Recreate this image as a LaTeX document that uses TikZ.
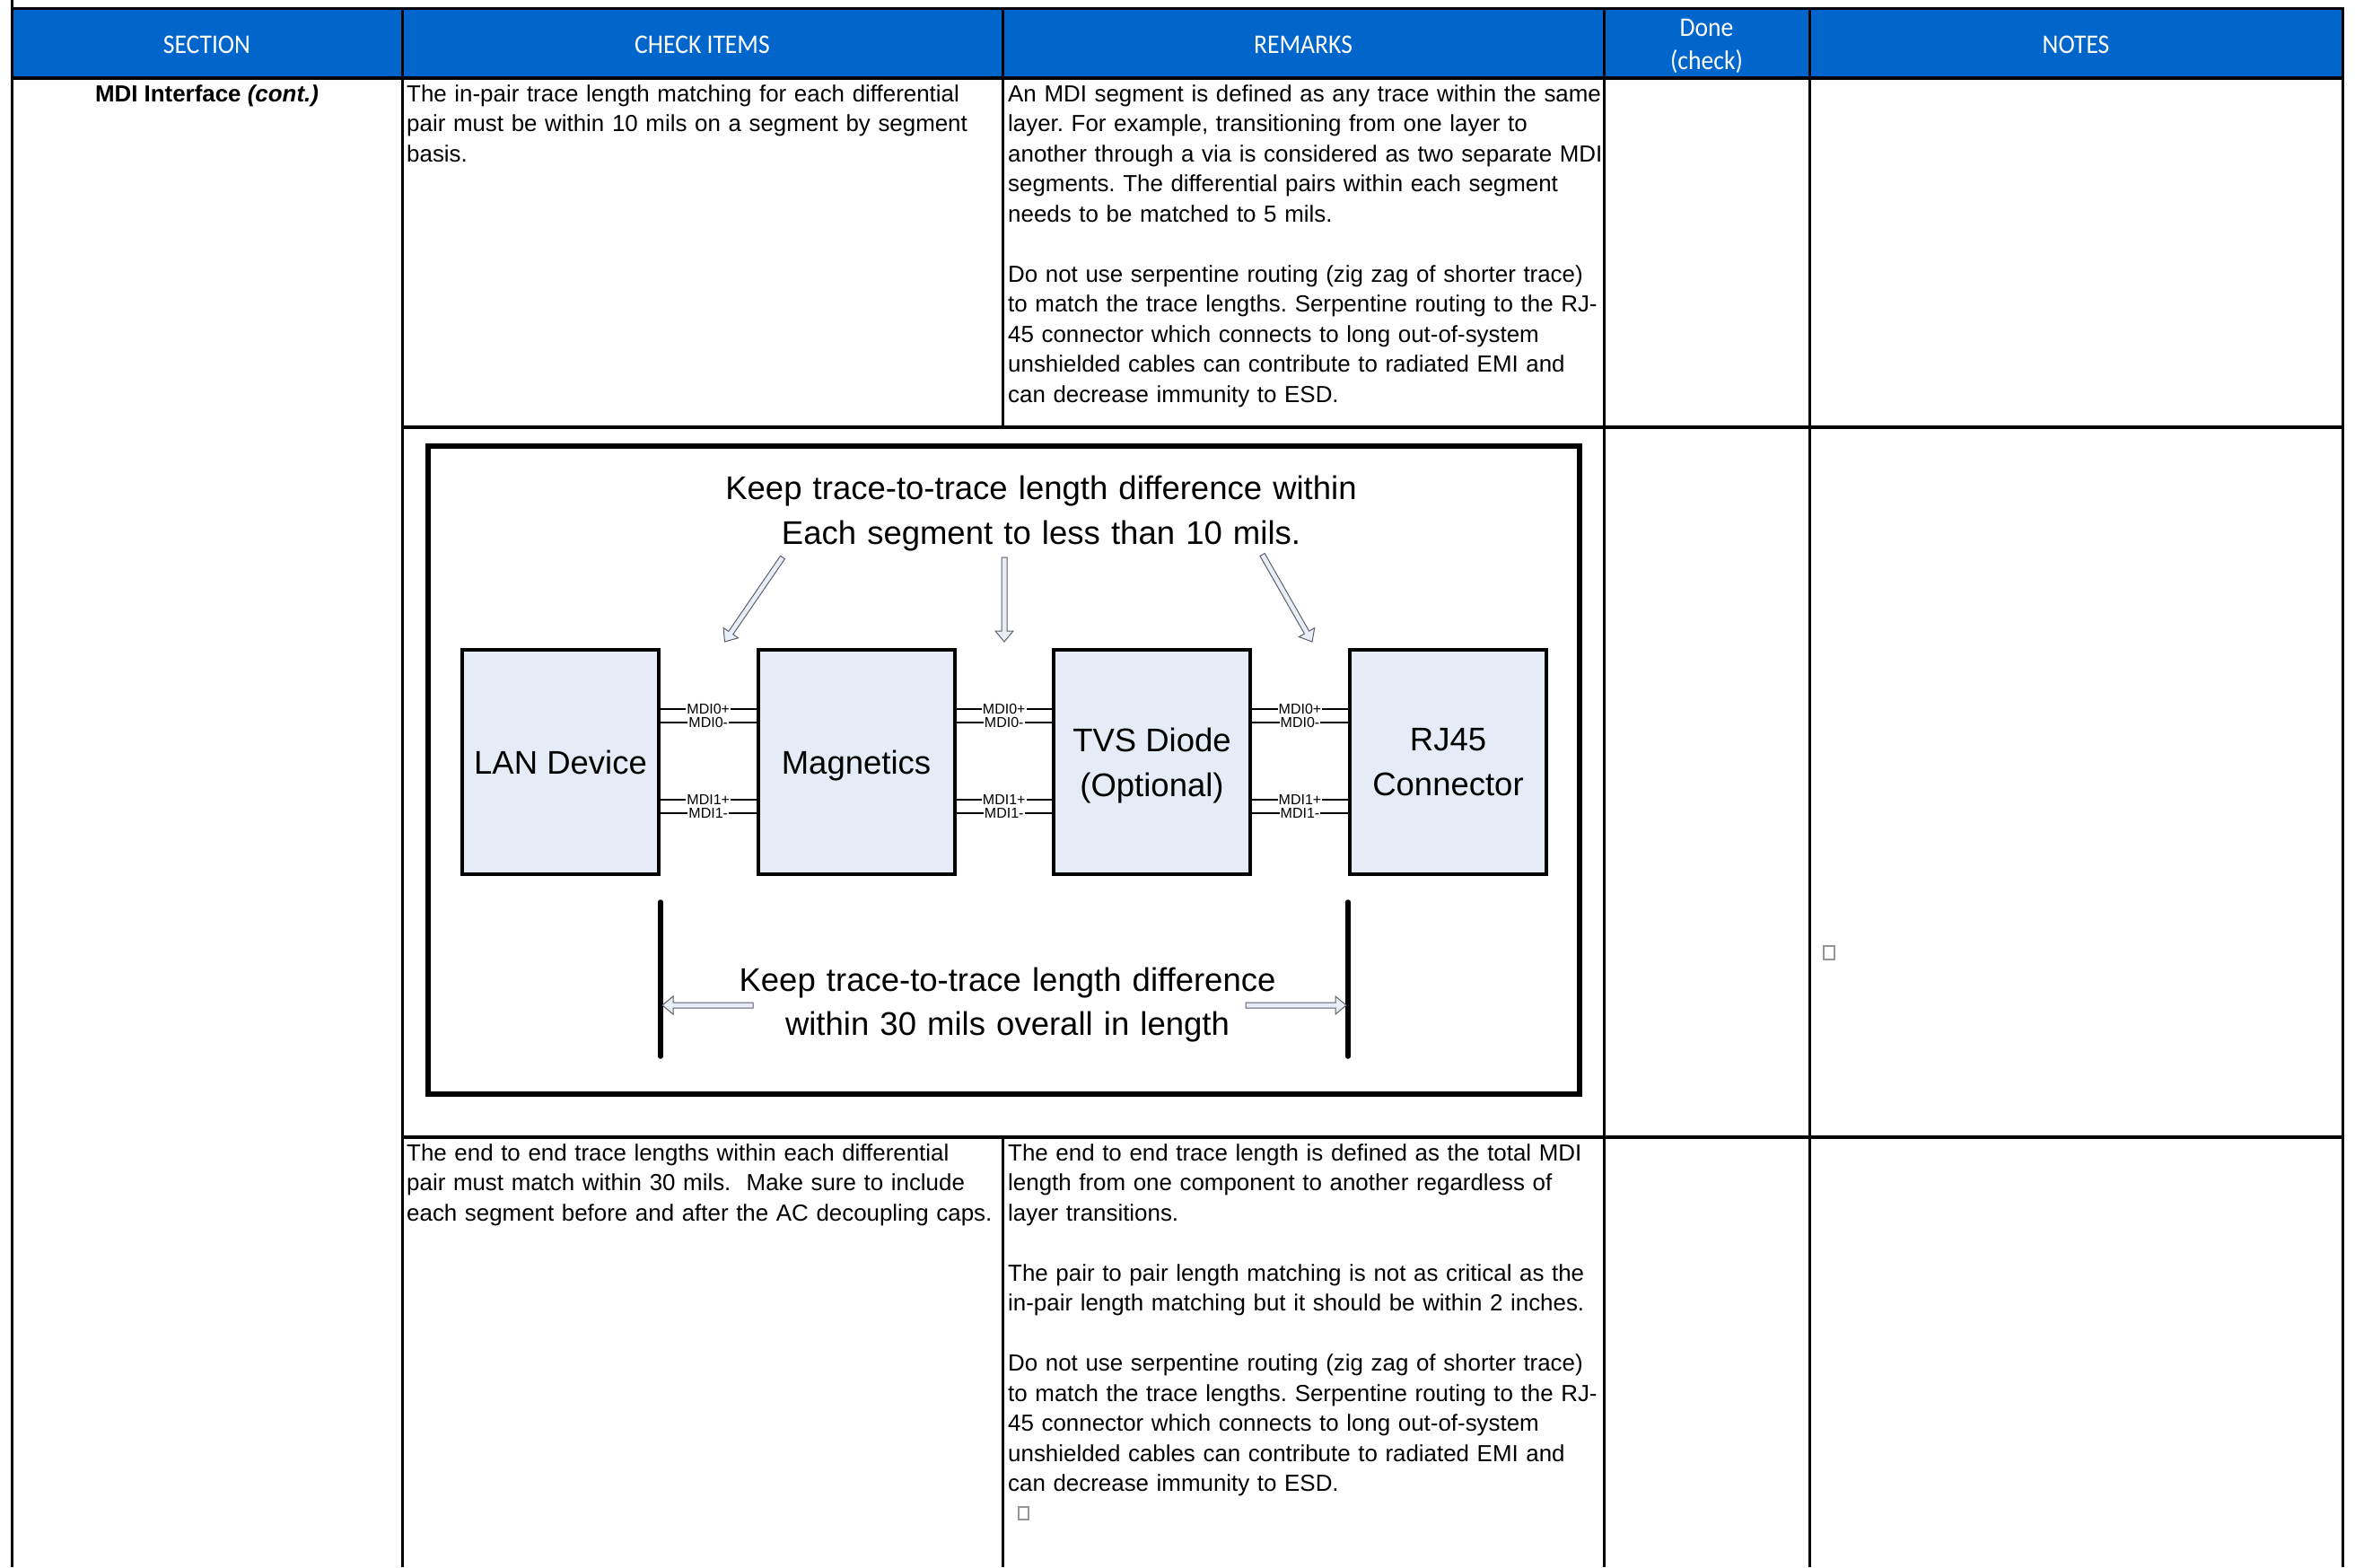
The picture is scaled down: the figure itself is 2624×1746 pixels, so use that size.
\documentclass[tikz,border=0pt]{standalone}
\usepackage{fontspec}
\setmainfont{Liberation Sans}
\newfontfamily\hdrfont[FakeStretch=0.92]{Carlito}
\usetikzlibrary{calc}
\frenchspacing

\definecolor{hdrblue}{RGB}{0,102,204}
\definecolor{boxfill}{RGB}{229,235,247}
\definecolor{arrfill}{RGB}{232,238,248}
\definecolor{arrline}{RGB}{95,95,105}
\definecolor{glyphgray}{RGB}{150,150,150}

\newcommand{\blockarr}[2]{%
  \coordinate (bah) at ($(#2)!12pt!(#1)$);
  \draw[barr] ($(#1)!3pt!90:(#2)$) -- ($(bah)!3pt!90:(#2)$) -- ($(bah)!10pt!90:(#2)$) -- (#2)
    -- ($(bah)!10pt!-90:(#2)$) -- ($(bah)!3pt!-90:(#2)$) -- ($(#1)!3pt!-90:(#2)$) -- cycle;}

\begin{document}
\begin{tikzpicture}[x=1pt,y=-1pt,
  vline/.style={line width=3pt},
  hline/.style={line width=3.5pt},
  hdr/.style={text=white, font=\hdrfont\fontsize{30}{37}\selectfont, inner sep=0pt, anchor=base},
  body/.style={font=\fontsize{25.9}{33.5}\selectfont\frenchspacing, inner sep=0pt, anchor=base west, align=left, text width=720pt},
  blk/.style={draw=black, line width=4pt, fill=boxfill, minimum width=219pt, minimum height=250pt, inner sep=0pt, font=\fontsize{36.5}{50}\selectfont, align=center, text depth=0pt},
  bigtxt/.style={font=\fontsize{36.5}{50}\selectfont, inner sep=0pt, anchor=base, align=center, text width=800pt},
  wire/.style={line width=2.7pt},
  mdi/.style={font=\fontsize{16}{16}\selectfont, fill=white, inner xsep=1pt, inner ysep=0pt, text height=11.5pt, text depth=0.5pt},
  barr/.style={draw=arrline, fill=arrfill, line width=1pt, line join=miter},
  bar/.style={line width=5.5pt, line cap=round},
  glyph/.style={draw=glyphgray, line width=1.2pt}
]
\useasboundingbox (0,0) rectangle (2624,1746);
\fill[white] (0,0) rectangle (2624,1746);

% ---------- header ----------
\fill[hdrblue] (13,9) rectangle (2610,87);
\node[hdr] (hsec) at (230.5,59) {SECTION};
\node[hdr] (hchk) at (782.5,59) {CHECK ITEMS};
\node[hdr] (hrem) at (1452,59) {REMARKS};
\node[hdr, align=center, text width=220pt] (hdone) at (1901.5,40) {Done\\(check)};
\node[hdr] (hnot) at (2313,59) {NOTES};

% ---------- grid ----------
\draw[hline] (11.5,9.5) -- (2611.5,9.5);
\draw[hline] (11.5,87) -- (2611.5,87);
\draw[hline] (448,476) -- (2611.5,476);
\draw[hline] (448,1267) -- (2611.5,1267);
\draw[vline] (13,0) -- (13,1746);
\draw[vline] (448,9) -- (448,1746);
\draw[vline] (1117,9) -- (1117,476);
\draw[vline] (1117,1267) -- (1117,1746);
\draw[vline] (1787,9) -- (1787,1746);
\draw[vline] (2016,9) -- (2016,1746);
\draw[vline] (2610,9) -- (2610,1746);

% ---------- row 1 ----------
\node[font=\fontsize{25.9}{33.5}\selectfont\bfseries, inner sep=0pt, anchor=base] (sec) at (230.5,113) {MDI Interface \itshape(cont.)};
\node[body] (chk1) at (453,113) {The in-pair trace length matching for each differential\\
pair must be within 10 mils on a segment by segment\\
basis.};
\node[body] (rem1) at (1123,113) {An MDI segment is defined as any trace within the same\\
layer. For example, transitioning from one layer to\\
another through a via is considered as two separate MDI\\
segments. The differential pairs within each segment\\
needs to be matched to 5 mils.\\[33.5pt]
Do not use serpentine routing (zig zag of shorter trace)\\
to match the trace lengths. Serpentine routing to the RJ-\\
45 connector which connects to long out-of-system\\
unshielded cables can contribute to radiated EMI and\\
can decrease immunity to ESD.};

% ---------- diagram ----------
\draw[line width=6.5pt] (477,497) rectangle (1760,1219);
\node[bigtxt] (toptxt) at (1160,556) {Keep trace-to-trace length difference within\\Each segment to less than 10 mils.};

\node[blk] (lan) at (624.5,849) {LAN Device};
\node[blk] (mag) at (954,849) {Magnetics};
\node[blk] (tvs) at (1283.5,849) {TVS Diode\\(Optional)};
\node[blk] (rj) at (1613.5,849) {RJ45\\Connector};

\coordinate (w0p) at (0,790);
\coordinate (w0n) at (0,805);
\coordinate (w1p) at (0,891);
\coordinate (w1n) at (0,906);
\foreach \a/\b in {lan/mag, mag/tvs, tvs/rj}{
  \draw[wire] (\a.east |- w0p) -- node[mdi]{MDI0+} (\b.west |- w0p);
  \draw[wire] (\a.east |- w0n) -- node[mdi]{MDI0-} (\b.west |- w0n);
  \draw[wire] (\a.east |- w1p) -- node[mdi]{MDI1+} (\b.west |- w1p);
  \draw[wire] (\a.east |- w1n) -- node[mdi]{MDI1-} (\b.west |- w1n);
}

% top arrows
\coordinate (a1s) at (872,621);
\coordinate (a1e) at (807.5,715);
\coordinate (a2s) at (1119,621);
\coordinate (a2e) at (1119,715);
\coordinate (a3s) at (1406.5,618);
\coordinate (a3e) at (1462,715);
\blockarr{a1s}{a1e}
\blockarr{a2s}{a2e}
\blockarr{a3s}{a3e}

% bottom bars and arrows
\coordinate (bartop) at (0,1005);
\coordinate (barbot) at (0,1177);
\draw[bar] (lan.east |- bartop) -- (lan.east |- barbot);
\draw[bar] (rj.west |- bartop) -- (rj.west |- barbot);
\node[bigtxt] (bottxt) at (1122.5,1104) {Keep trace-to-trace length difference\\[-1pt]within 30 mils overall in length};
\coordinate (b1s) at (839,1120);
\coordinate (b1e) at (738,1120);
\coordinate (b2s) at (1388,1120);
\coordinate (b2e) at (1500,1120);
\blockarr{b1s}{b1e}
\blockarr{b2s}{b2e}

\draw[glyph] (2032,1054) rectangle (2044,1069);

% ---------- row 3 ----------
\node[body] (chk3) at (453,1293) {The end to end trace lengths within each differential\\
pair must match within 30 mils.\ \ Make sure to include\\
each segment before and after the AC decoupling caps.};
\node[body] (rem3) at (1123,1293) {The end to end trace length is defined as the total MDI\\
length from one component to another regardless of\\
layer transitions.\\[33.5pt]
The pair to pair length matching is not as critical as the\\
in-pair length matching but it should be within 2 inches.\\[33.5pt]
Do not use serpentine routing (zig zag of shorter trace)\\
to match the trace lengths. Serpentine routing to the RJ-\\
45 connector which connects to long out-of-system\\
unshielded cables can contribute to radiated EMI and\\
can decrease immunity to ESD.};
\draw[glyph] (1135,1679) rectangle (1146,1693);
\end{tikzpicture}
\end{document}
